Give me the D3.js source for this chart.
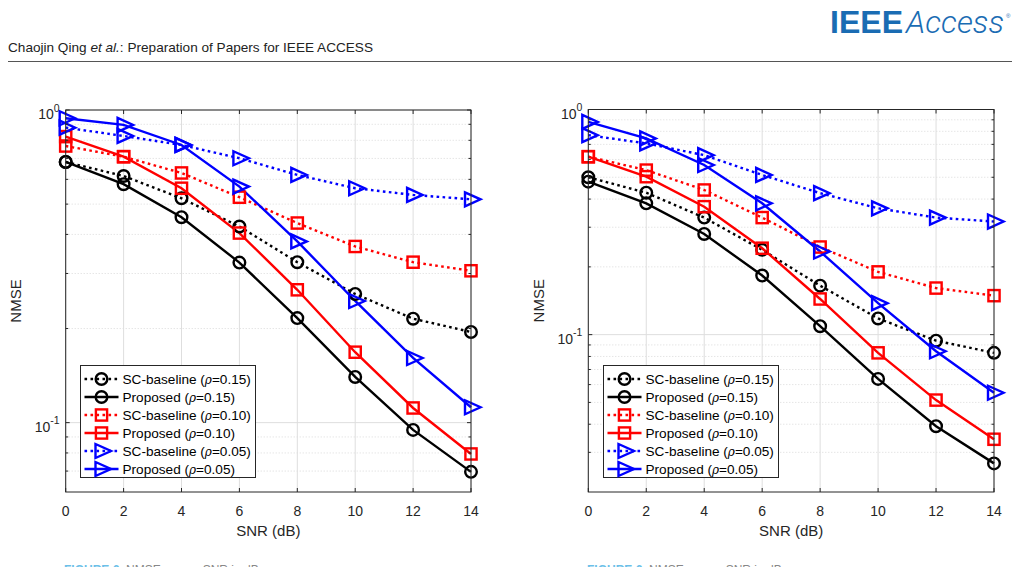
<!DOCTYPE html>
<html>
<head>
<meta charset="utf-8">
<script src="https://d3js.org/d3.v7.min.js"></script>
<style>
  body { margin: 0; background: #fff; }
  svg { display: block; font-family: "Liberation Sans", Arial, Helvetica, sans-serif; }
</style>
</head>
<body>
<svg id="page" width="1019" height="567"></svg>
<script>
// SNR grid shared by both panels
const snr = [0, 2, 4, 6, 8, 10, 12, 14];
const xTicks = [0, 2, 4, 6, 8, 10, 12, 14];

// left panel
const leftScBase015 = [0.682, 0.615, 0.522, 0.424, 0.326, 0.258, 0.215, 0.195];
const leftProp015   = [0.682, 0.579, 0.454, 0.325, 0.216, 0.140, 0.0948, 0.0696];
const leftScBase010 = [0.767, 0.709, 0.629, 0.526, 0.435, 0.366, 0.326, 0.306];
const leftProp010   = [0.822, 0.709, 0.562, 0.404, 0.266, 0.168, 0.1114, 0.0794];
const leftScBase005 = [0.878, 0.826, 0.773, 0.701, 0.620, 0.562, 0.535, 0.518];
const leftProp005   = [0.941, 0.896, 0.773, 0.569, 0.380, 0.245, 0.161, 0.112];

// right panel
const rightScBase015 = [0.500, 0.427, 0.331, 0.238, 0.165, 0.118, 0.094, 0.083];
const rightProp015   = [0.478, 0.383, 0.280, 0.183, 0.109, 0.0636, 0.0392, 0.0268];
const rightScBase010 = [0.617, 0.538, 0.439, 0.331, 0.245, 0.190, 0.161, 0.149];
const rightProp010   = [0.617, 0.503, 0.370, 0.242, 0.144, 0.083, 0.0512, 0.0343];
const rightScBase005 = [0.769, 0.707, 0.627, 0.512, 0.425, 0.364, 0.331, 0.318];
const rightProp005   = [0.881, 0.744, 0.567, 0.383, 0.234, 0.138, 0.0844, 0.0552];

const legendLabels = [
  ["SC-baseline (", "0.15)"],
  ["Proposed (", "0.15)"],
  ["SC-baseline (", "0.10)"],
  ["Proposed (", "0.10)"],
  ["SC-baseline (", "0.05)"],
  ["Proposed (", "0.05)"]
];
const seriesColor = ["#000000", "#000000", "#ff0000", "#ff0000", "#0000ff", "#0000ff"];
const seriesMarker = ["circle", "circle", "square", "square", "triangle", "triangle"];
const seriesDotted = [true, false, true, false, true, false];

const svg = d3.select("#page");
const axisColor = "#262626";
const lw = 2.4;
const dots = "2.6,3.4";

// ---------- page header ----------
const hdr = svg.append("text").attr("x", 8).attr("y", 52)
    .attr("font-size", 13.6).attr("fill", "#222");
hdr.append("tspan").text("Chaojin Qing ");
hdr.append("tspan").attr("font-style", "italic").text("et al.");
hdr.append("tspan").text(": Preparation of Papers for IEEE ACCESS");

svg.append("line").attr("x1", 8).attr("x2", 1012).attr("y1", 61.5).attr("y2", 61.5)
    .attr("stroke", "#555").attr("stroke-width", 1.2);

svg.append("text").attr("x", 830).attr("y", 33)
    .attr("font-family", "'Liberation Sans Narrow', 'Liberation Sans', Arial, sans-serif")
    .attr("font-weight", "bold").attr("font-size", 32).attr("fill", "#1a6cb3")
    .attr("textLength", 73).attr("lengthAdjust", "spacingAndGlyphs")
    .text("IEEE");
svg.append("text").attr("x", 906).attr("y", 33)
    .attr("font-family", "Roboto, 'Open Sans', sans-serif")
    .attr("font-weight", 300).attr("font-style", "italic").attr("font-size", 31)
    .attr("fill", "#1a6cb3")
    .attr("textLength", 98).attr("lengthAdjust", "spacingAndGlyphs")
    .text("Access");
svg.append("text").attr("x", 1006).attr("y", 18).attr("font-size", 6)
    .attr("fill", "#1a6cb3").text("\u00ae");

// ---------- bottom captions (cut off by the page edge, as in the source) ----------
function caption(x) {
  const t = svg.append("text").attr("x", x).attr("y", 574).attr("font-size", 12);
  t.append("tspan").attr("fill", "#6cc0e8").attr("font-weight", "bold").text("FIGURE 6.");
  t.append("tspan").attr("fill", "#888").text("  NMSE versus SNR in dB.");
}
caption(64);
caption(587);

// ---------- markers ----------
function drawMarker(g, type, cx, cy, color) {
  if (type === "circle") {
    g.append("circle").attr("cx", cx).attr("cy", cy).attr("r", 5.8)
        .attr("fill", "none").attr("stroke", color).attr("stroke-width", lw);
  } else if (type === "square") {
    g.append("rect").attr("x", cx - 5.6).attr("y", cy - 5.6)
        .attr("width", 11.2).attr("height", 11.2)
        .attr("fill", "none").attr("stroke", color).attr("stroke-width", lw);
  } else {
    g.append("path")
        .attr("d", `M${cx - 6},${cy - 7}L${cx + 9.5},${cy}L${cx - 6},${cy + 7}Z`)
        .attr("fill", "none").attr("stroke", color).attr("stroke-width", lw)
        .attr("stroke-linejoin", "miter");
  }
}

// ---------- one panel ----------
function drawPanel(opts) {
  const x = d3.scaleLinear().domain([0, 14]).range([opts.left, opts.right]);
  const y = d3.scaleLog().domain(opts.yDomain).range([opts.bottom, opts.top]);
  const g = svg.append("g");

  // grid
  const minorVals = [];
  for (let dec = -2; dec <= 0; dec++) {
    for (let m = 2; m <= 9; m++) {
      const v = m * Math.pow(10, dec - 1);
      if (v > opts.yDomain[0] && v < opts.yDomain[1]) minorVals.push(v);
    }
  }
  const majorVals = opts.yMajor;

  g.selectAll(".minor").data(minorVals).enter().append("line")
      .attr("x1", opts.left).attr("x2", opts.right)
      .attr("y1", d => y(d)).attr("y2", d => y(d))
      .attr("stroke", "#d0d0d0").attr("stroke-width", 0.8)
      .attr("stroke-dasharray", "1,2");
  g.selectAll(".vgrid").data(xTicks).enter().append("line")
      .attr("x1", d => x(d)).attr("x2", d => x(d))
      .attr("y1", opts.top).attr("y2", opts.bottom)
      .attr("stroke", "#dedede").attr("stroke-width", 1);
  g.selectAll(".hgrid").data(majorVals).enter().append("line")
      .attr("x1", opts.left).attr("x2", opts.right)
      .attr("y1", d => y(d)).attr("y2", d => y(d))
      .attr("stroke", "#dedede").attr("stroke-width", 1);

  // series
  const line = d3.line().x((d, i) => x(snr[i])).y(d => y(d));
  opts.series.forEach((vals, k) => {
    g.append("path").datum(vals).attr("d", line)
        .attr("fill", "none").attr("stroke", seriesColor[k])
        .attr("stroke-width", lw)
        .attr("stroke-dasharray", seriesDotted[k] ? dots : null);
  });
  opts.series.forEach((vals, k) => {
    vals.forEach((v, i) => drawMarker(g, seriesMarker[k], x(snr[i]), y(v), seriesColor[k]));
  });

  // axes with inward ticks
  const ax = g.append("g").attr("stroke", axisColor).attr("stroke-width", 1);
  ax.append("rect").attr("x", opts.left).attr("y", opts.top)
      .attr("width", opts.right - opts.left).attr("height", opts.bottom - opts.top)
      .attr("fill", "none");
  xTicks.forEach(t => {
    ax.append("line").attr("x1", x(t)).attr("x2", x(t))
        .attr("y1", opts.bottom).attr("y2", opts.bottom - 4);
    ax.append("line").attr("x1", x(t)).attr("x2", x(t))
        .attr("y1", opts.top).attr("y2", opts.top + 4);
  });
  majorVals.forEach(v => {
    ax.append("line").attr("x1", opts.left).attr("x2", opts.left + 4)
        .attr("y1", y(v)).attr("y2", y(v));
    ax.append("line").attr("x1", opts.right).attr("x2", opts.right - 4)
        .attr("y1", y(v)).attr("y2", y(v));
  });
  minorVals.forEach(v => {
    ax.append("line").attr("x1", opts.left).attr("x2", opts.left + 2.5)
        .attr("y1", y(v)).attr("y2", y(v));
    ax.append("line").attr("x1", opts.right).attr("x2", opts.right - 2.5)
        .attr("y1", y(v)).attr("y2", y(v));
  });

  // tick labels
  g.selectAll(".xl").data(xTicks).enter().append("text")
      .attr("x", d => x(d)).attr("y", opts.bottom + 24)
      .attr("text-anchor", "middle").attr("font-size", 14).attr("fill", axisColor)
      .text(d => d);
  majorVals.forEach(v => {
    const e = Math.round(Math.log10(v));
    const t = g.append("text").attr("x", opts.left - 6).attr("y", y(v) + 9)
        .attr("text-anchor", "end").attr("font-size", 14).attr("fill", axisColor);
    t.append("tspan").text("10");
    t.append("tspan").attr("dy", -7.5).attr("font-size", 10.5).text(String(e));
  });

  // axis titles
  g.append("text").attr("x", (opts.left + opts.right) / 2).attr("y", opts.bottom + 44)
      .attr("text-anchor", "middle").attr("font-size", 15).attr("fill", axisColor)
      .text("SNR (dB)");
  g.append("text")
      .attr("transform", `translate(${opts.nmseX},${(opts.top + opts.bottom) / 2}) rotate(-90)`)
      .attr("text-anchor", "middle").attr("font-size", 15).attr("fill", axisColor)
      .text("NMSE");

  // legend
  const lg = g.append("g");
  lg.append("rect").attr("x", opts.legX).attr("y", 365.5)
      .attr("width", 175).attr("height", 112)
      .attr("fill", "#fff").attr("stroke", axisColor).attr("stroke-width", 1);
  legendLabels.forEach((lab, k) => {
    const cy = 379 + k * 18;
    lg.append("line").attr("x1", opts.legX + 4).attr("x2", opts.legX + 38)
        .attr("y1", cy).attr("y2", cy)
        .attr("stroke", seriesColor[k]).attr("stroke-width", lw)
        .attr("stroke-dasharray", seriesDotted[k] ? dots : null);
    drawMarker(lg, seriesMarker[k], opts.legX + 21, cy, seriesColor[k]);
    const t = lg.append("text").attr("x", opts.legX + 42).attr("y", cy + 5)
        .attr("font-size", 13.6).attr("fill", "#000");
    t.append("tspan").text(lab[0]);
    t.append("tspan").attr("font-style", "italic")
        .attr("font-family", "'DejaVu Serif', serif").attr("font-size", 12).text("\u03c1");
    t.append("tspan").text("=" + lab[1]);
  });
}

drawPanel({
  left: 65.7, right: 471, top: 110, bottom: 492,
  yDomain: [0.06, 1], yMajor: [0.1, 1], nmseX: 21, legX: 80.5,
  series: [leftScBase015, leftProp015, leftScBase010, leftProp010, leftScBase005, leftProp005]
});
drawPanel({
  left: 588.3, right: 994, top: 109.5, bottom: 492,
  yDomain: [0.02, 1], yMajor: [0.1, 1], nmseX: 544, legX: 603.5,
  series: [rightScBase015, rightProp015, rightScBase010, rightProp010, rightScBase005, rightProp005]
});
</script>
</body>
</html>
